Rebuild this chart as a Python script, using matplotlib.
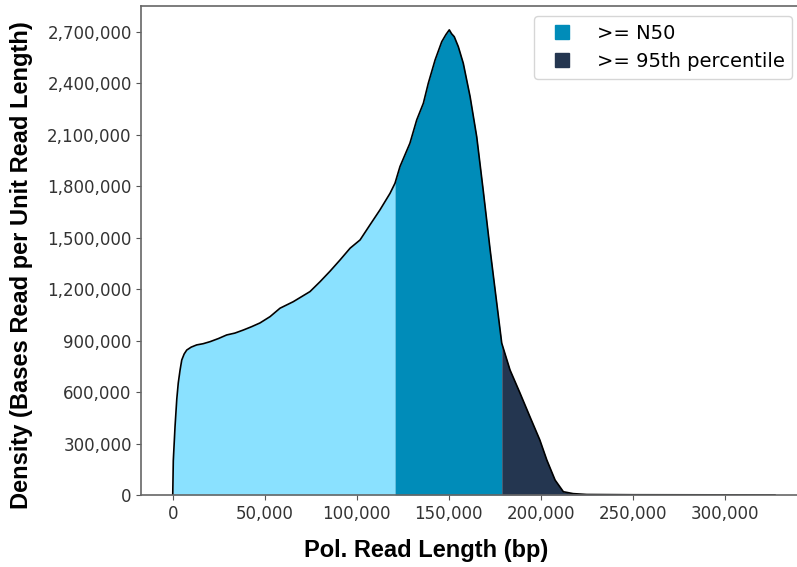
import numpy as np
import matplotlib.pyplot as plt
from matplotlib.lines import Line2D
from matplotlib.ticker import FuncFormatter

# read length (bp) and density (bases read per unit read length)
read_len = [0, 300, 1250, 2200, 3000, 4000, 4900, 6200, 7600, 10000, 13000,
            16500, 20300, 24800, 29300, 33800, 38400, 42800, 47400, 52900,
            58300, 65500, 74600, 80100, 85500, 90900, 96400, 101800, 107200,
            112600, 118100, 120800, 123500, 128900, 132600, 136200, 138900,
            142600, 146200, 148500, 150300, 151500, 153000, 155200, 157900,
            161600, 165200, 168800, 172500, 176100, 178800, 183300, 188700,
            194100, 199500, 203300, 207800, 212300, 217600, 225000, 250000,
            300000, 327300]
density = [0, 200000, 400000, 560000, 653000, 730000, 787000, 822000, 845000,
           862000, 875000, 882000, 894000, 912000, 933000, 944000, 962000,
           981000, 1003000, 1040000, 1089000, 1127000, 1186000, 1244000,
           1305000, 1370000, 1439000, 1487000, 1575000, 1662000, 1759000,
           1818000, 1915000, 2051000, 2187000, 2284000, 2401000, 2537000,
           2643000, 2685000, 2712000, 2690000, 2672000, 2614000, 2517000,
           2323000, 2089000, 1770000, 1429000, 1118000, 885000, 729000,
           595000, 457000, 321000, 204000, 87000, 19000, 8000, 3000, 1500,
           800, 0]

n50 = 120800
p95 = 178800

c_light = '#8AE1FF'
c_mid = '#008CB9'
c_dark = '#243650'

x = np.array(read_len)
y = np.array(density)

fig = plt.figure(figsize=(7.97, 5.67), dpi=100)
ax = fig.add_axes([0.1775, 0.127, 0.8288, 0.8624])

ax.fill_between(x, 0, y, where=x <= n50, color=c_light, linewidth=0)
ax.fill_between(x, 0, y, where=(x >= n50) & (x <= p95), color=c_mid, linewidth=0)
ax.fill_between(x, 0, y, where=x >= p95, color=c_dark, linewidth=0)
ax.plot(x, y, color='black', linewidth=1.2)

ax.set_xlim(-17000, 342000)
ax.set_ylim(0, 2851000)
ax.set_xticks(np.arange(0, 300001, 50000))
ax.set_yticks(np.arange(0, 2700001, 300000))
fmt = FuncFormatter(lambda v, p: '{:,.0f}'.format(v))
ax.xaxis.set_major_formatter(fmt)
ax.yaxis.set_major_formatter(fmt)
ax.tick_params(labelsize=12, colors='#555555', labelcolor='#333333')
for s in ax.spines.values():
    s.set_color('#666666')
    s.set_linewidth(1.2)

lab_font = {'family': 'Liberation Sans', 'weight': 'bold', 'size': 17}
ax.set_xlabel('Pol. Read Length (bp)', fontdict=lab_font)
ax.set_ylabel('Density (Bases Read per Unit Read Length)', fontdict=lab_font)
ax.xaxis.set_label_coords(0.431, -0.090)
ax.yaxis.set_label_coords(-0.164, 0.47)

handles = [Line2D([], [], marker='s', linestyle='none', markersize=10,
                  color=c_mid),
           Line2D([], [], marker='s', linestyle='none', markersize=10,
                  color=c_dark)]
ax.legend(handles, ['>= N50', '>= 95th percentile'], loc='upper right',
          fontsize=14)

fig.savefig('out.png', dpi=100)
